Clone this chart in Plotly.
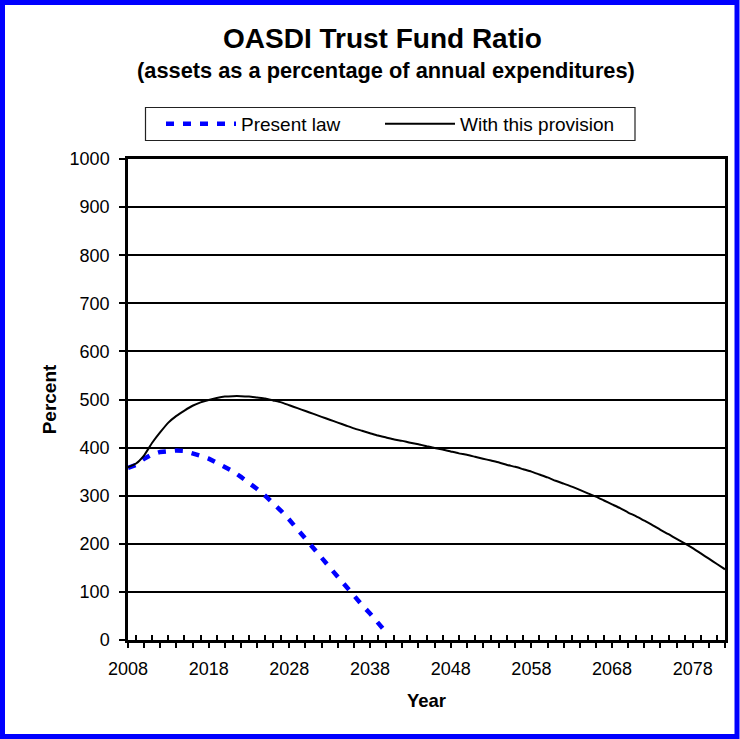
import plotly.graph_objects as go

years_present = list(range(2008, 2041))
present_law = [358, 364, 377, 386, 391, 393, 394, 393, 389, 383, 377, 369, 361, 351, 339,
               327, 314, 300, 285, 268, 250, 231, 211, 191, 171, 151, 131, 110, 91, 73,
               55, 37, 16]

years_provision = list(range(2008, 2083))
with_provision = [359, 367, 384, 410, 432, 452, 466, 477, 487, 494, 499, 503, 506, 507, 507,
                  506, 504, 502, 498, 494, 488, 482, 476, 470, 464, 458, 452, 446, 440, 435,
                  430, 425, 421, 417, 414, 410, 407, 403, 399, 396, 392, 388, 385, 381, 377,
                  373, 369, 364, 360, 355, 350, 344, 338, 331, 325, 319, 312, 305, 298, 290,
                  282, 274, 265, 257, 248, 239, 229, 220, 210, 201, 191, 180, 169, 158, 147]

x_tick_vals = list(range(2008, 2083, 2))
x_tick_text = [str(y) if (y - 2008) % 10 == 0 else "" for y in x_tick_vals]
x_minor_vals = list(range(2009, 2083, 2))
y_tick_vals = list(range(0, 1001, 100))

FONT = "Liberation Sans, Arial, sans-serif"

fig = go.Figure()
fig.add_trace(go.Scatter(x=years_present, y=present_law, mode="lines", name="Present law",
                         legend="legend",
                         line=dict(color="#0000FF", width=4.5, dash="8px,9px")))
fig.add_trace(go.Scatter(x=years_provision, y=with_provision, mode="lines",
                         name="With this provision", legend="legend2",
                         line=dict(color="black", width=2, shape="spline", smoothing=0.5)))

L, R, T, B = 128, 15, 159, 99
W, H = 740, 739
pw, ph = W - L - R, H - T - B

def px(xp):
    return (xp - L) / pw

def py(yp):
    return (H - B - yp) / ph

legend_common = dict(orientation="h", xref="container", yref="container",
                     xanchor="left", y=1 - 124 / H, yanchor="middle",
                     borderwidth=0, bgcolor="rgba(0,0,0,0)",
                     font=dict(size=19), itemwidth=70)

fig.update_layout(
    width=W, height=H,
    margin=dict(l=L, r=R, t=T, b=B, autoexpand=False),
    paper_bgcolor="white", plot_bgcolor="white",
    font=dict(family=FONT, color="black", size=18),
    showlegend=True,
    legend=dict(x=161 / W, **legend_common),
    legend2=dict(x=380 / W, **legend_common),
    xaxis=dict(range=[2008, 2082], tickmode="array", tickvals=x_tick_vals,
               ticktext=x_tick_text, ticks="outside", ticklen=5, tickcolor="black",
               tickwidth=1.5, showgrid=False, zeroline=False, showline=True,
               linecolor="black", linewidth=2.5, mirror=True,
               tickfont=dict(size=18), ticklabelstandoff=6,
               minor=dict(ticks="inside", tickmode="array", tickvals=x_minor_vals,
                          ticklen=5, tickcolor="black", tickwidth=1.5, showgrid=False),
               title=dict(text="<b>Year</b>", font=dict(size=18.5), standoff=16)),
    yaxis=dict(range=[0, 1000], tickmode="array", tickvals=y_tick_vals,
               ticks="outside", ticklen=6, tickcolor="black", tickwidth=1.5,
               showgrid=True, gridcolor="black", gridwidth=2, zeroline=False,
               showline=True, linecolor="black", linewidth=2.5, mirror=True,
               tickfont=dict(size=18), ticklabelstandoff=6,
               title=dict(text="<b>Percent</b>", font=dict(size=19), standoff=8)),
    annotations=[
        dict(text="<b>OASDI Trust Fund Ratio</b>", xref="paper", yref="paper",
             x=px(382), y=py(38), xanchor="center", yanchor="middle",
             showarrow=False, font=dict(size=28)),
        dict(text="<b>(assets as a percentage of annual expenditures)</b>", xref="paper",
             yref="paper", x=px(386), y=py(70), xanchor="center", yanchor="middle",
             showarrow=False, font=dict(size=21.8)),
    ],
    shapes=[
        dict(type="rect", xref="paper", yref="paper", x0=px(145.5), x1=px(635),
             y0=py(140.5), y1=py(107.5), line=dict(color="#222222", width=1.2),
             fillcolor="rgba(0,0,0,0)", layer="above"),
        dict(type="rect", xref="paper", yref="paper", x0=px(2.5), x1=px(737),
             y0=py(736.5), y1=py(2.5), line=dict(color="#0000FF", width=5),
             fillcolor="rgba(0,0,0,0)", layer="above"),
    ],
)

fig.write_html("out.html", config={"displayModeBar": False},
               post_script="document.body.style.margin='0';")
